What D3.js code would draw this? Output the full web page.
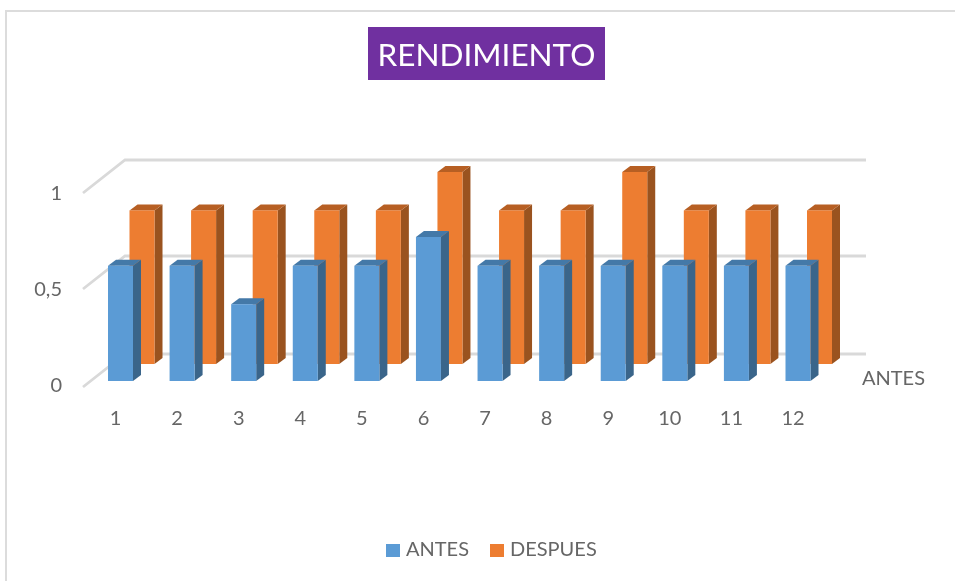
<!DOCTYPE html>
<html><head><meta charset="utf-8">
<script src="https://cdn.jsdelivr.net/npm/d3@7"></script>
<style>html,body{margin:0;padding:0;background:#fff}svg{display:block;font-family:Lato,"Open Sans",sans-serif;filter:blur(0.45px)}</style>
</head><body><svg id="c" width="955" height="581"></svg>
<script>
const categories = ["1","2","3","4","5","6","7","8","9","10","11","12"];
const antes   = [0.6,0.6,0.4,0.6,0.6,0.75,0.6,0.6,0.6,0.6,0.6,0.6];
const despues = [0.8,0.8,0.8,0.8,0.8,1,0.8,0.8,1,0.8,0.8,0.8];
const seriesNames = ["ANTES","DESPUES"];
const yTicks = [0,0.5,1];
const tickLabels = ["0","0,5","1"];
const palette = {
  ANTES:{front:"#5b9bd5",top:"#4479a8",side:"#3a658a"},
  DESPUES:{front:"#ed7d31",top:"#b75f23",side:"#9a531f"}
};
const svg = d3.select("#c");
// frame
svg.append("path").attr("d","M6,581V11H955").attr("fill","none").attr("stroke","#dcdcdc").attr("stroke-width",2);
// title
svg.append("rect").attr("x",368).attr("y",27).attr("width",237).attr("height",53).attr("fill","#7030a0");
svg.append("text").attr("x",486.5).attr("y",65.5).attr("text-anchor","middle").attr("fill","#fff")
  .attr("font-size",31.5).text("RENDIMIENTO");

const x = d3.scalePoint().domain(categories).range([120.5,798]);   // front-face centre of the ANTES row
const y = d3.scaleLinear().domain([0,1]).range([381,189]);
const barW = 25, depthX = 8, depthY = 6;
const rowShift = {ANTES:{dx:0,dy:0},DESPUES:{dx:21.5,dy:-17}};

// back wall gridlines with slanted floor edge
const gridDy = 4, backDx = 42, backDy = -33, gridEnd = 866, gridStart = 83;
const g = svg.append("g");
yTicks.forEach(t=>{
  const y0 = y(t)+gridDy+(t===0?2:0);
  g.append("path")
   .attr("d",`M${gridStart},${y0}L${gridStart+backDx},${y0+backDy}H${gridEnd}`)
   .attr("fill","none").attr("stroke","#d9d9d9").attr("stroke-width",2.8);
});

function row(name,values){
  const s = rowShift[name], c = palette[name];
  const gg = svg.append("g").selectAll("g").data(values).join("g");
  const L = (d,i)=>x(categories[i])-barW/2+s.dx, T = d=>y(d)+s.dy, B = ()=>y(0)+s.dy;
  gg.append("path").attr("fill",c.side).attr("d",(d,i)=>{
    const r=L(d,i)+barW;
    return `M${r},${T(d)}l${depthX},${-depthY}V${B()-depthY}l${-depthX},${depthY}Z`;});
  gg.append("path").attr("fill",c.top).attr("d",(d,i)=>{
    const l=L(d,i);
    return `M${l},${T(d)}l${depthX},${-depthY}h${barW}l${-depthX},${depthY}Z`;});
  gg.append("rect").attr("x",L).attr("y",T).attr("width",barW).attr("height",d=>B()-T(d)).attr("fill",c.front);
}
row("DESPUES",despues);
row("ANTES",antes);

const txt="#666666", fs=20;
svg.append("g").selectAll("text").data(categories).join("text")
  .attr("x",d=>x(d)-5).attr("y",425).attr("text-anchor","middle").attr("fill",txt).attr("font-size",fs).text(d=>d);
svg.append("g").selectAll("text").data(yTicks).join("text")
  .attr("x",62).attr("y",(d)=>y(d)+ (d===0?11:11)).attr("text-anchor","end").attr("fill",txt).attr("font-size",fs)
  .text((d,i)=>tickLabels[i]);
svg.append("text").attr("x",862).attr("y",385).attr("fill",txt).attr("font-size",fs).text(seriesNames[0]);

// legend
const legendX = {ANTES:386,DESPUES:490};
seriesNames.forEach(n=>{
  svg.append("rect").attr("x",legendX[n]).attr("y",544).attr("width",14).attr("height",13).attr("fill",palette[n].front);
  svg.append("text").attr("x",legendX[n]+20).attr("y",556).attr("fill",txt).attr("font-size",fs).text(n);
});
</script></body></html>
